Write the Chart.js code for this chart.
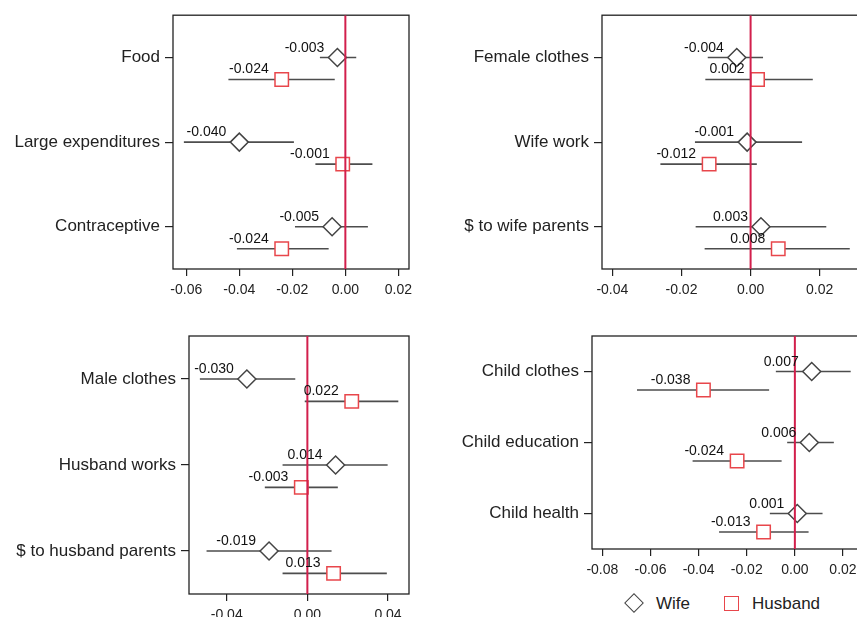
<!DOCTYPE html>
<html>
<head>
<meta charset="utf-8">
<script src="https://cdn.jsdelivr.net/npm/chart.js@4.4.1/dist/chart.umd.min.js"></script>
<style>
  html, body { margin: 0; padding: 0; background: #fff; }
  body { width: 857px; height: 617px; overflow: hidden; position: relative; font-family: "Liberation Sans", Arial, sans-serif; }
  canvas { position: absolute; }
  .leg { position: absolute; font-size: 17px; color: #222; line-height: 20px; }
  .diam { position: absolute; width: 12px; height: 12px; border: 1.5px solid #444; transform: rotate(45deg); background: #fff; }
  .sq { position: absolute; width: 13px; height: 13px; border: 1.5px solid #e8464b; background: #fff; }
</style>
</head>
<body>
<canvas id="p1" width="420" height="300" style="left:0;top:0"></canvas>
<canvas id="p2" width="460" height="300" style="left:430px;top:0"></canvas>
<canvas id="p3" width="420" height="297" style="left:0;top:320px"></canvas>
<canvas id="p4" width="460" height="260" style="left:430px;top:320px"></canvas>

<div class="diam" style="left:627px;top:596px"></div>
<div class="leg" style="left:656px;top:594px">Wife</div>
<div class="sq" style="left:724px;top:596px"></div>
<div class="leg" style="left:752px;top:594px">Husband</div>

<script>
// panel 1
var cats1 = ["Food", "Large expenditures", "Contraceptive"];
var wife1 = [-0.003, -0.040, -0.005];
var wifeLo1 = [-0.0096, -0.0609, -0.019];
var wifeHi1 = [0.0041, -0.0194, 0.0085];
var husb1 = [-0.024, -0.001, -0.024];
var husbLo1 = [-0.0441, -0.0113, -0.0409];
var husbHi1 = [-0.004, 0.0102, -0.0063];
var ticks1 = [-0.06, -0.04, -0.02, 0, 0.02];

// panel 2
var cats2 = ["Female clothes", "Wife work", "$ to wife parents"];
var wife2 = [-0.004, -0.001, 0.003];
var wifeLo2 = [-0.0124, -0.0161, -0.0159];
var wifeHi2 = [0.0036, 0.0149, 0.0219];
var husb2 = [0.002, -0.012, 0.008];
var husbLo2 = [-0.0131, -0.0261, -0.0133];
var husbHi2 = [0.018, 0.0018, 0.0287];
var ticks2 = [-0.04, -0.02, 0, 0.02];

// panel 3
var cats3 = ["Male clothes", "Husband works", "$ to husband parents"];
var wife3 = [-0.030, 0.014, -0.019];
var wifeLo3 = [-0.0533, -0.0123, -0.050];
var wifeHi3 = [-0.006, 0.0398, 0.012];
var husb3 = [0.022, -0.003, 0.013];
var husbLo3 = [-0.0013, -0.0211, -0.0123];
var husbHi3 = [0.0451, 0.0151, 0.0394];
var ticks3 = [-0.04, 0, 0.04];

// panel 4
var cats4 = ["Child clothes", "Child education", "Child health"];
var wife4 = [0.007, 0.006, 0.001];
var wifeLo4 = [-0.0079, -0.0032, -0.0104];
var wifeHi4 = [0.0232, 0.0162, 0.0115];
var husb4 = [-0.038, -0.024, -0.013];
var husbLo4 = [-0.0656, -0.0425, -0.0315];
var husbHi4 = [-0.0107, -0.0055, 0.0057];
var ticks4 = [-0.08, -0.06, -0.04, -0.02, 0, 0.02];

var HUSB_SHIFT = 0.26;
var FONT = "'Liberation Sans', Arial, sans-serif";

// box round the plot area
var boxPlugin = {
    id: "box",
    beforeDatasetsDraw: function (chart) {
        var a = chart.chartArea, ctx = chart.ctx;
        ctx.save();
        ctx.strokeStyle = "#222";
        ctx.lineWidth = 1.3;
        ctx.strokeRect(a.left, a.top, a.right - a.left, a.bottom - a.top);
        ctx.restore();
    }
};

// coefficient labels up-left of each marker
var valueLabels = {
    id: "valueLabels",
    afterDatasetsDraw: function (chart) {
        var ctx = chart.ctx;
        ctx.save();
        ctx.font = "14px " + FONT;
        ctx.fillStyle = "#111";
        ctx.textAlign = "right";
        ctx.textBaseline = "alphabetic";
        chart.data.datasets.forEach(function (ds, i) {
            if (!ds.showValues) return;
            chart.getDatasetMeta(i).data.forEach(function (pt, j) {
                ctx.fillText(ds.data[j].x.toFixed(3), pt.x - 13, pt.y - 6);
            });
        });
        ctx.restore();
    }
};

function makePanel(id, cats, wife, wifeLo, wifeHi, husb, husbLo, husbHi, ticks, xmin, xmax, lay) {
    var datasets = [];
    // zero line
    datasets.push({
        type: "line",
        data: [{ x: 0, y: -0.5 }, { x: 0, y: 2.5 }],
        borderColor: "#d21f4c",
        borderWidth: 2,
        pointRadius: 0,
        order: 0
    });
    // markers
    datasets.push({
        type: "scatter",
        data: wife.map(function (v, i) { return { x: v, y: i }; }),
        pointStyle: "rectRot",
        pointRadius: 9,
        backgroundColor: "#fff",
        borderColor: "#444",
        borderWidth: 1.5,
        showValues: true,
        order: 1
    });
    datasets.push({
        type: "scatter",
        data: husb.map(function (v, i) { return { x: v, y: i + HUSB_SHIFT }; }),
        pointStyle: "rect",
        pointRadius: 9.5,
        backgroundColor: "#fff",
        borderColor: "#e8464b",
        borderWidth: 1.5,
        showValues: true,
        order: 1
    });
    // confidence intervals
    cats.forEach(function (c, i) {
        datasets.push({
            type: "line",
            data: [{ x: wifeLo[i], y: i }, { x: wifeHi[i], y: i }],
            borderColor: "#4d4d4d",
            borderWidth: 1.6,
            pointRadius: 0,
            order: 2
        });
        datasets.push({
            type: "line",
            data: [{ x: husbLo[i], y: i + HUSB_SHIFT }, { x: husbHi[i], y: i + HUSB_SHIFT }],
            borderColor: "#4d4d4d",
            borderWidth: 1.6,
            pointRadius: 0,
            order: 2
        });
    });

    new Chart(document.getElementById(id).getContext("2d"), {
        type: "scatter",
        data: { datasets: datasets },
        plugins: [boxPlugin, valueLabels],
        options: {
            responsive: false,
            animation: false,
            devicePixelRatio: 1,
            layout: { padding: { top: lay.top, right: lay.right, left: 0, bottom: 0 } },
            plugins: { legend: { display: false }, tooltip: { enabled: false } },
            scales: {
                x: {
                    type: "linear",
                    min: xmin,
                    max: xmax,
                    afterBuildTicks: function (s) { s.ticks = ticks.map(function (v) { return { value: v }; }); },
                    afterFit: function (s) { s.height = lay.xh; },
                    grid: { drawOnChartArea: false, drawTicks: true, tickLength: 7, color: "#222", lineWidth: 1.2 },
                    border: { display: false },
                    ticks: {
                        autoSkip: false,
                        maxRotation: 0,
                        padding: 6,
                        color: "#222",
                        font: { family: FONT, size: 14 },
                        callback: function (v) { return Number(v).toFixed(2); }
                    }
                },
                y: {
                    type: "linear",
                    reverse: true,
                    min: -0.5,
                    max: 2.5,
                    afterBuildTicks: function (s) { s.ticks = cats.map(function (c, i) { return { value: i }; }); },
                    afterFit: function (s) { s.width = lay.yw; },
                    grid: { drawOnChartArea: false, drawTicks: true, tickLength: 8, color: "#222", lineWidth: 1.2 },
                    border: { display: false },
                    ticks: {
                        autoSkip: false,
                        padding: 5,
                        color: "#222",
                        font: { family: FONT, size: 17 },
                        callback: function (v) { return cats[v]; }
                    }
                }
            }
        }
    });
}

makePanel("p1", cats1, wife1, wifeLo1, wifeHi1, husb1, husbLo1, husbHi1, ticks1, -0.065, 0.024,
    { top: 12, right: 9, xh: 31, yw: 173 });
makePanel("p2", cats2, wife2, wifeLo2, wifeHi2, husb2, husbLo2, husbHi2, ticks2, -0.043, 0.036,
    { top: 12, right: 15, xh: 31, yw: 172 });
makePanel("p3", cats3, wife3, wifeLo3, wifeHi3, husb3, husbLo3, husbHi3, ticks3, -0.0587, 0.0504,
    { top: 16, right: 9, xh: 23, yw: 189 });
makePanel("p4", cats4, wife4, wifeLo4, wifeHi4, husb4, husbLo4, husbHi4, ticks4, -0.0843, 0.0333,
    { top: 16, right: 15, xh: 31, yw: 162 });
</script>
</body>
</html>
